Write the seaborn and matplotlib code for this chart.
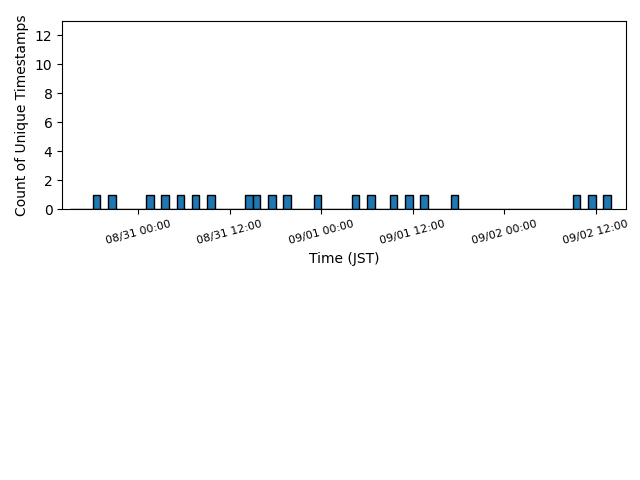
import pandas as pd
import matplotlib
matplotlib.use('Agg')
import matplotlib.pyplot as plt
import matplotlib.dates as mdates
from matplotlib.ticker import MultipleLocator
import seaborn as sns

# one unique timestamp per hour bucket (JST)
timestamps = [
    '2024-08-30 18:20', '2024-08-30 20:20',
    '2024-08-31 01:20', '2024-08-31 03:20', '2024-08-31 05:20', '2024-08-31 07:20',
    '2024-08-31 09:20', '2024-08-31 14:20', '2024-08-31 15:20', '2024-08-31 17:20',
    '2024-08-31 19:20', '2024-08-31 23:20',
    '2024-09-01 04:20', '2024-09-01 06:20', '2024-09-01 09:20', '2024-09-01 11:20',
    '2024-09-01 13:20', '2024-09-01 17:20',
    '2024-09-02 09:20', '2024-09-02 11:20', '2024-09-02 13:20',
]
bin_start = '2024-08-30 15:00'
bin_end = '2024-09-02 14:00'
view_start = '2024-08-30 14:00'
view_end = '2024-09-02 16:00'

ts = pd.to_datetime(timestamps)
x = mdates.date2num(ts.to_pydatetime())
bins = mdates.date2num(pd.date_range(bin_start, bin_end, freq='1h').to_pydatetime())

fig = plt.figure(figsize=(6.4, 4.8), dpi=100)
ax = fig.add_axes([0.0973, 0.564, 0.8808, 0.393])

sns.histplot(x=x, bins=bins, color='#1f77b4', edgecolor='black', alpha=1.0,
             linewidth=1.0, ax=ax)

ax.xaxis_date()
ax.set_xlim(mdates.date2num(pd.Timestamp(view_start).to_pydatetime()),
            mdates.date2num(pd.Timestamp(view_end).to_pydatetime()))
ax.xaxis.set_major_locator(mdates.HourLocator(byhour=[0, 12]))
ax.xaxis.set_major_formatter(mdates.DateFormatter('%m/%d %H:%M'))
ax.set_ylim(0, 13)
ax.yaxis.set_major_locator(MultipleLocator(2))

for lbl in ax.get_xticklabels():
    lbl.set_rotation(15)
    lbl.set_fontsize(8)
    lbl.set_ha('center')

ax.set_xlabel('Time (JST)')
ax.set_ylabel('Count of Unique Timestamps')

plt.savefig('out.png', dpi=100)
plt.close()
